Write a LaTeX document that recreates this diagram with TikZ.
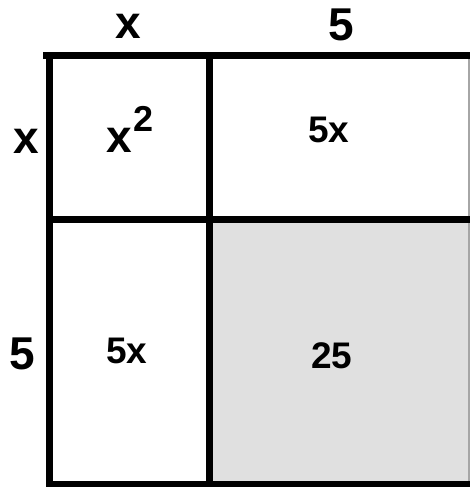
\documentclass[tikz,border=0pt]{standalone}
\usepackage{fontspec}
\setmainfont{Liberation Sans}
\begin{document}
\begin{tikzpicture}[x=1pt,y=-1pt,
  grid/.style={line width=7pt},
  side/.style={font=\fontsize{46}{46}\selectfont\bfseries, inner sep=0pt},
  cell/.style={font=\fontsize{37}{37}\selectfont\bfseries, inner sep=0pt}]
\useasboundingbox (0,0) rectangle (470,487);
\fill[white] (0,0) rectangle (470,487);
\fill[gray!24] (209,219) rectangle (470,484);
\draw[gray!70, line width=1.2pt] (469,56) -- (469,484);
\draw[grid] (43,56) -- (470,56);
\draw[grid] (49,53) -- (49,487);
\draw[grid] (209,56) -- (209,487);
\draw[grid] (49,219) -- (470,219);
\draw[grid] (49,484) -- (470,484);
\node[side] (tx) at (128,26) {x};
\node[side] (t5) at (341,25) {5};
\node[side] (lx) at (26,141) {x};
\node[side] (l5) at (22,354) {5};
\node[side, anchor=base] (sq) at (130,152) {x\kern2pt\raisebox{0.45em}{\fontsize{36}{36}\selectfont 2}};
\node[cell] (a) at (329,130) {5x};
\node[cell] (b) at (127,351) {5x};
\node[cell] (c) at (332,356) {25};
\end{tikzpicture}
\end{document}
